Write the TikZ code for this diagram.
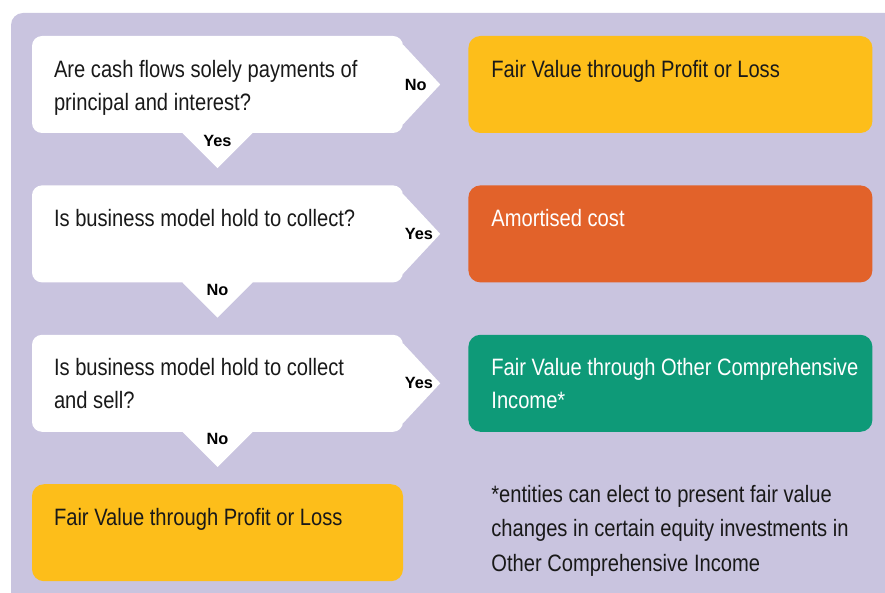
\documentclass[tikz,border=0pt]{standalone}
\usepackage{fontspec}
\setmainfont{Liberation Sans}[FakeStretch=0.85]
\newfontfamily\lblfont{Liberation Sans}
\usetikzlibrary{positioning}
\definecolor{lavender}{RGB}{201,196,223}
\definecolor{fvyellow}{RGB}{253,190,26}
\definecolor{acorange}{RGB}{226,98,42}
\definecolor{ocigreen}{RGB}{14,154,120}
\definecolor{ink}{RGB}{25,25,25}

\begin{document}
\begin{tikzpicture}[x=1pt,y=-1pt,node distance=52pt and 65pt,
  qbox/.style={rectangle,rounded corners=10pt,fill=white,minimum width=371pt,minimum height=97pt,inner sep=0pt},
  abox/.style={rectangle,rounded corners=12pt,minimum width=404pt,minimum height=97pt,inner sep=0pt},
  txt/.style={inner sep=0pt,align=left,text=ink,font=\fontsize{23.7}{33}\selectfont},
  lbl/.style={inner sep=1.5pt,text=black,font=\lblfont\bfseries\fontsize{16.3}{18}\selectfont}]
  \useasboundingbox (0,0) rectangle (885,593);
  \fill[lavender,rounded corners=12pt] (11,13) rectangle (920,630);

  % decision boxes
  \node[qbox] (q1) at (217.5,84.5) {};
  \node[qbox,below=of q1] (q2) {};
  \node[qbox,below=of q2] (q3) {};
  % outcomes
  \node[abox,fill=fvyellow,right=of q1] (a1) {};
  \node[abox,fill=acorange,right=of q2] (a2) {};
  \node[abox,fill=ocigreen,right=of q3] (a3) {};
  \node[abox,fill=fvyellow,minimum width=371pt,below=of q3] (a4) {};

  % pointers on the decision boxes
  \foreach \q in {q1,q2,q3} {
    \fill[white] ([xshift=-6pt,yshift=-9pt]\q.north east) -- ([yshift=-9pt]\q.north east)
      -- ([xshift=37pt]\q.east) -- ([yshift=9pt]\q.south east)
      -- ([xshift=-6pt,yshift=9pt]\q.south east) -- cycle;
    \fill[white] ([xshift=-35pt,yshift=4pt]\q.south) -- ([xshift=-35pt]\q.south)
      -- ([yshift=-35pt]\q.south) -- ([xshift=35pt]\q.south)
      -- ([xshift=35pt,yshift=4pt]\q.south) -- cycle;
  }

  \node[txt,below right=24pt and 22pt of q1.north west] (t1) {Are cash flows solely payments of\\principal and interest?};
  \node[txt,below right=24pt and 22pt of q2.north west] (t2) {Is business model hold to collect?};
  \node[txt,below right=24pt and 22pt of q3.north west] (t3) {Is business model hold to collect\\and sell?};
  \node[txt,below right=24pt and 23pt of a1.north west] (o1) {Fair Value through Profit or Loss};
  \node[txt,text=white,below right=24pt and 23pt of a2.north west] (o2) {Amortised cost};
  \node[txt,text=white,below right=24pt and 23pt of a3.north west] (o3) {Fair Value through Other Comprehensive\\Income*};
  \node[txt,below right=24pt and 22pt of a4.north west] (o4) {Fair Value through Profit or Loss};
  \node[txt,font=\fontsize{23.7}{34.5}\selectfont,below right=53pt and 23pt of a3.south west] (note)
    {*entities can elect to present fair value\\changes in certain equity investments in\\Other Comprehensive Income};

  % answers
  \node[lbl,anchor=west] (q1no) at (q1.east) {No};
  \node[lbl,anchor=north] (q1yes) at (q1.south) {Yes};
  \node[lbl,anchor=west] (q2yes) at (q2.east) {Yes};
  \node[lbl,anchor=north] (q2no) at (q2.south) {No};
  \node[lbl,anchor=west] (q3yes) at (q3.east) {Yes};
  \node[lbl,anchor=north] (q3no) at (q3.south) {No};
\end{tikzpicture}
\end{document}
